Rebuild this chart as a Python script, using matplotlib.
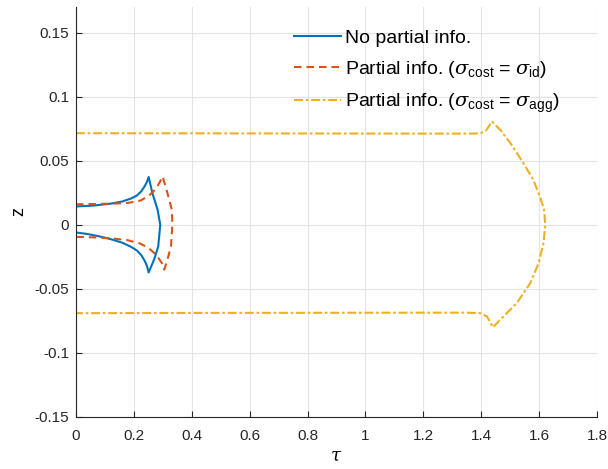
import matplotlib
matplotlib.use("Agg")
import matplotlib.pyplot as plt
from matplotlib.ticker import FuncFormatter

plt.rcParams['font.family'] = ['Liberation Sans', 'DejaVu Sans']
plt.rcParams['mathtext.fontset'] = 'custom'
plt.rcParams['mathtext.rm'] = 'Liberation Sans'
plt.rcParams['mathtext.it'] = 'DejaVu Serif:italic'

# Blue: no partial info
blue_tau = [0.0, 0.06, 0.12, 0.16, 0.19, 0.21, 0.225, 0.237, 0.245, 0.251,
            0.264, 0.282, 0.291, 0.284, 0.270, 0.251,
            0.245, 0.237, 0.225, 0.21, 0.19, 0.16, 0.12, 0.08, 0.04, 0.0]
blue_z = [0.0143, 0.0150, 0.0165, 0.0182, 0.0205, 0.0228, 0.026, 0.030, 0.0335, 0.0373,
          0.0247, 0.0117, 0.0, -0.017, -0.027, -0.0372,
          -0.032, -0.028, -0.0235, -0.0200, -0.0172, -0.014, -0.0112, -0.0090, -0.0072, -0.006]

# Orange: partial info (sigma_cost = sigma_id)
orange_tau = [0.0, 0.06, 0.12, 0.178, 0.224, 0.253, 0.276, 0.291, 0.299,
              0.316, 0.331, 0.333, 0.328, 0.316, 0.305,
              0.297, 0.285, 0.27, 0.25, 0.22, 0.178, 0.12, 0.06, 0.0]
orange_z = [0.016, 0.0162, 0.0165, 0.017, 0.019, 0.023, 0.028, 0.034, 0.0378,
            0.0247, 0.0117, 0.0, -0.017, -0.027, -0.035,
            -0.030, -0.026, -0.022, -0.018, -0.0145, -0.012, -0.0105, -0.0098, -0.0094]

# Yellow: partial info (sigma_cost = sigma_agg)
yellow_tau = [0.0, 0.4, 0.8, 1.2, 1.35, 1.397, 1.417, 1.437,
              1.466, 1.50, 1.546, 1.580, 1.603, 1.617, 1.621, 1.615, 1.598, 1.569, 1.523, 1.466, 1.44,
              1.42, 1.397, 1.35, 1.2, 0.8, 0.4, 0.0]
yellow_z = [0.0715, 0.0714, 0.0713, 0.0712, 0.0712, 0.0713, 0.0737, 0.0807,
            0.074, 0.064, 0.048, 0.035, 0.022, 0.0117, 0.0, -0.0143, -0.030, -0.0456, -0.061, -0.074, -0.080,
            -0.0716, -0.0690, -0.0686, -0.0686, -0.0687, -0.0688, -0.0690]

labels = ['No partial info.',
          r'Partial info. ($\sigma_{\mathrm{cost}}$ = $\sigma_{\mathrm{id}}$)',
          r'Partial info. ($\sigma_{\mathrm{cost}}$ = $\sigma_{\mathrm{agg}}$)']

xticks = [0, 0.2, 0.4, 0.6, 0.8, 1.0, 1.2, 1.4, 1.6, 1.8]
yticks = [-0.15, -0.1, -0.05, 0, 0.05, 0.1, 0.15]

fig = plt.figure(figsize=(6.08, 4.69), dpi=100)
ax = fig.add_axes([0.125, 0.111, 0.857, 0.874])

ax.plot(blue_tau, blue_z, color='#0072BD', lw=1.5, label=labels[0])
ax.plot(orange_tau, orange_z, color='#D95319', lw=1.5, ls=(0, (3.6, 2.4)), label=labels[1])
ax.plot(yellow_tau, yellow_z, color='#EDB120', lw=1.5, ls=(0, (4.3, 1.3, 1.3, 1.3)), label=labels[2])

ax.set_xlim(0, 1.8)
ax.set_ylim(-0.15, 0.17)
ax.set_xticks(xticks)
ax.set_yticks(yticks)
fmt = FuncFormatter(lambda v, p: '%g' % round(v, 4))
ax.xaxis.set_major_formatter(fmt)
ax.yaxis.set_major_formatter(fmt)
ax.tick_params(direction='in', length=4, labelsize=11, colors='#262626', width=0.8)
ax.tick_params(axis='x', pad=9)
ax.tick_params(axis='y', pad=5)
ax.grid(True, color='#e3e3e3', lw=0.8)
ax.set_axisbelow(True)
for s in ['top', 'right']:
    ax.spines[s].set_visible(False)
for s in ['left', 'bottom']:
    ax.spines[s].set_color('#262626')
    ax.spines[s].set_linewidth(0.8)

ax.set_xlabel(r'$\tau$', fontsize=13, labelpad=3)
ax.set_ylabel('z', fontsize=13, labelpad=5)

leg = ax.legend(loc='upper left', bbox_to_anchor=(0.392, 0.978), frameon=False,
                fontsize=14, handlelength=2.4, handletextpad=0.25,
                labelspacing=0.6, borderaxespad=0.3)

fig.savefig('out.png', dpi=100)
